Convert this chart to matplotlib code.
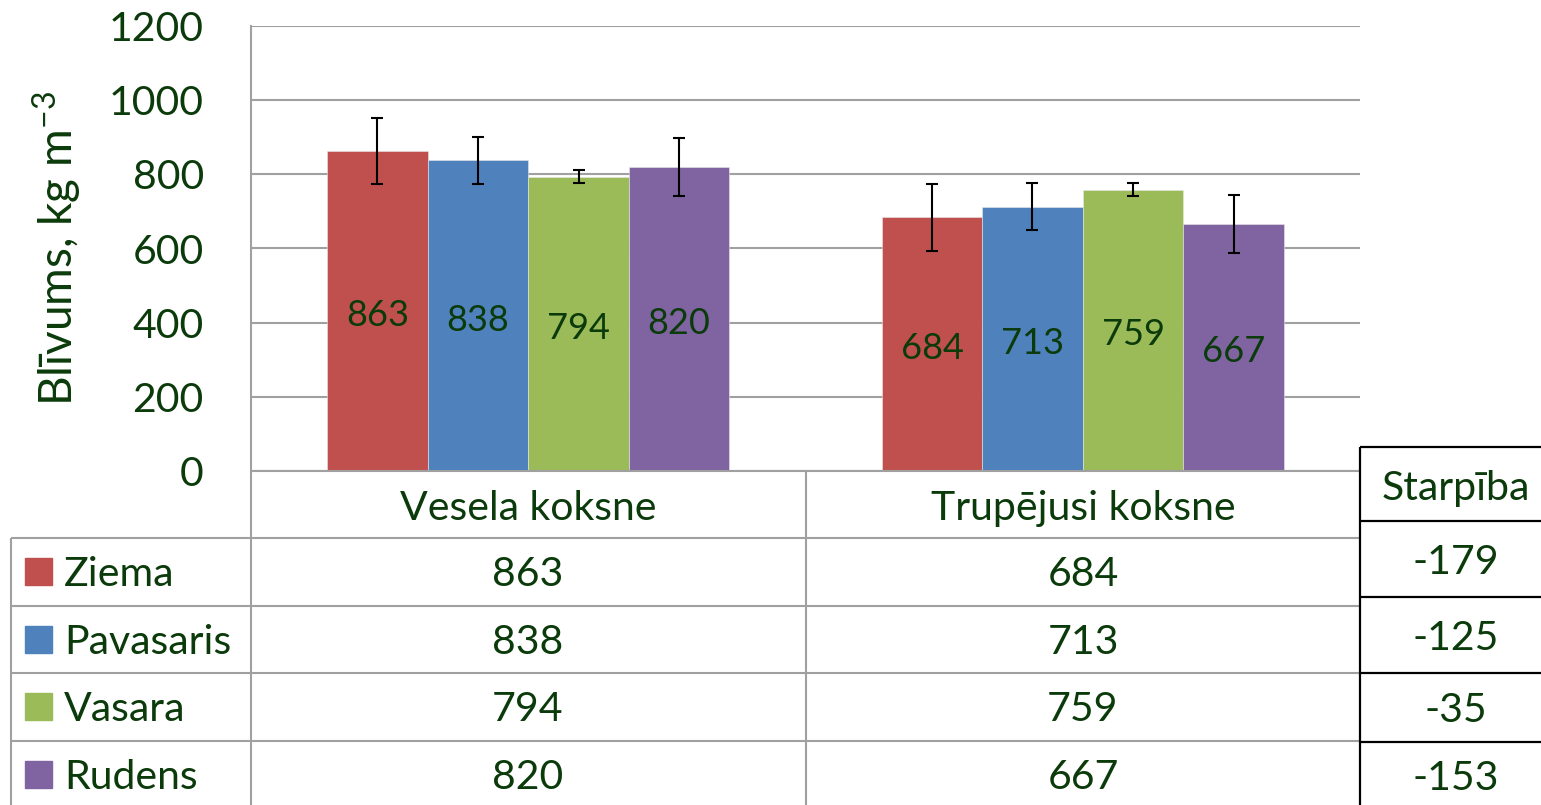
import numpy as np
import matplotlib.pyplot as plt
from matplotlib.patches import Rectangle

plt.rcParams['font.family'] = ['Lato', 'DejaVu Sans']
plt.rcParams['mathtext.default'] = 'regular'

# data
categories = ['Vesela koksne', 'Trupējusi koksne']
seasons = ['Ziema', 'Pavasaris', 'Vasara', 'Rudens']
vesela = [863, 838, 794, 820]
trupejusi = [684, 713, 759, 667]
err = [90, 63, 17, 78]
yticks = [0, 200, 400, 600, 800, 1000, 1200]

colors = ['#C0504D', '#4F81BD', '#9BBB59', '#8064A2']
txt = '#0b3a0b'
grid = '#a0a0a0'

W, H = 1541, 805
fig = plt.figure(figsize=(W / 100, H / 100), dpi=100)


def frac(x0, y0, x1, y1):
    # pixel box -> figure fraction
    return [x0 / W, 1 - y1 / H, (x1 - x0) / W, (y1 - y0) / H]


# bar chart area
ax = fig.add_axes(frac(251, 26, 1360, 471))
values = np.array([vesela, trupejusi])
x = np.arange(len(categories))
bw = 0.1813
for i, s in enumerate(seasons):
    pos = x + (i - 1.5) * bw
    vals = values[:, i]
    ax.bar(pos, vals, bw, color=colors[i], edgecolor='#e8e8e8', linewidth=0.4, zorder=2)
    ax.errorbar(pos, vals, yerr=err[i], fmt='none', ecolor='black',
                elinewidth=1.5, capsize=4.3, capthick=1.5, zorder=3)
    for p, v in zip(pos, vals):
        ax.text(p, v / 2 - 4, str(v), ha='center', va='center_baseline',
                fontsize=26, color=txt, zorder=4)

ax.set_xlim(-0.5, 1.5)
ax.set_ylim(0, 1200)
ax.set_yticks(yticks)
ax.set_xticks([])
ax.yaxis.grid(True, color=grid, linewidth=1.5, zorder=0)
ax.set_axisbelow(True)
for sp in ['top', 'right', 'bottom']:
    ax.spines[sp].set_visible(False)
ax.spines['left'].set_color(grid)
ax.spines['left'].set_linewidth(1.5)
ax.tick_params(axis='y', length=0, pad=34, labelsize=29.5, labelcolor=txt)

# overlay in pixel coordinates for the data table
ov = fig.add_axes([0, 0, 1, 1])
ov.set_xlim(0, W)
ov.set_ylim(H, 0)
ov.axis('off')

ov.text(57, 248, 'Blīvums, kg m$^{-3}$', rotation=90, ha='center', va='center',
        fontsize=33, color=txt)

row_tops = [538, 606, 673, 741]
rh = 67.5
col_centers = [528, 1083]
dy = 3  # small downward nudge to match the reference baseline

ov.hlines(471, 251, 1360, color=grid, lw=1.5)
ov.hlines(row_tops, 11, 1360, color=grid, lw=1.5)
ov.vlines([251, 806], 471, H, color=grid, lw=1.5)
ov.vlines(11, 538, H, color=grid, lw=1.5)

for c, name in zip(col_centers, categories):
    ov.text(c, 505 + dy, name, ha='center', va='center', fontsize=29.5, color=txt)

for r, (s, col) in enumerate(zip(seasons, colors)):
    cy = row_tops[r] + rh / 2
    ov.add_patch(Rectangle((25, cy - 13.5), 27, 27, color=col))
    ov.text(64, cy + dy, s, ha='left', va='center', fontsize=29.5, color=txt)
    ov.text(col_centers[0], cy + dy, str(vesela[r]), ha='center', va='center', fontsize=29.5, color=txt)
    ov.text(col_centers[1], cy + dy, str(trupejusi[r]), ha='center', va='center', fontsize=29.5, color=txt)

# difference box
box_lines = [447, 521, 597, 673, 742]
ov.vlines(1360, 447, H, color='black', lw=1.6)
ov.hlines(box_lines, 1360, W, color='black', lw=1.6)
ov.text(1456, 485 + dy, 'Starpība', ha='center', va='center', fontsize=29.5, color=txt)
diffs = [t - v for v, t in zip(vesela, trupejusi)]
for r, d in enumerate(diffs):
    top = box_lines[r + 1]
    bottom = box_lines[r + 2] if r + 2 < len(box_lines) else top + 66
    ov.text(1456, (top + bottom) / 2 + dy, str(d), ha='center', va='center', fontsize=29.5, color=txt)

fig.savefig('out.png', dpi=100)
